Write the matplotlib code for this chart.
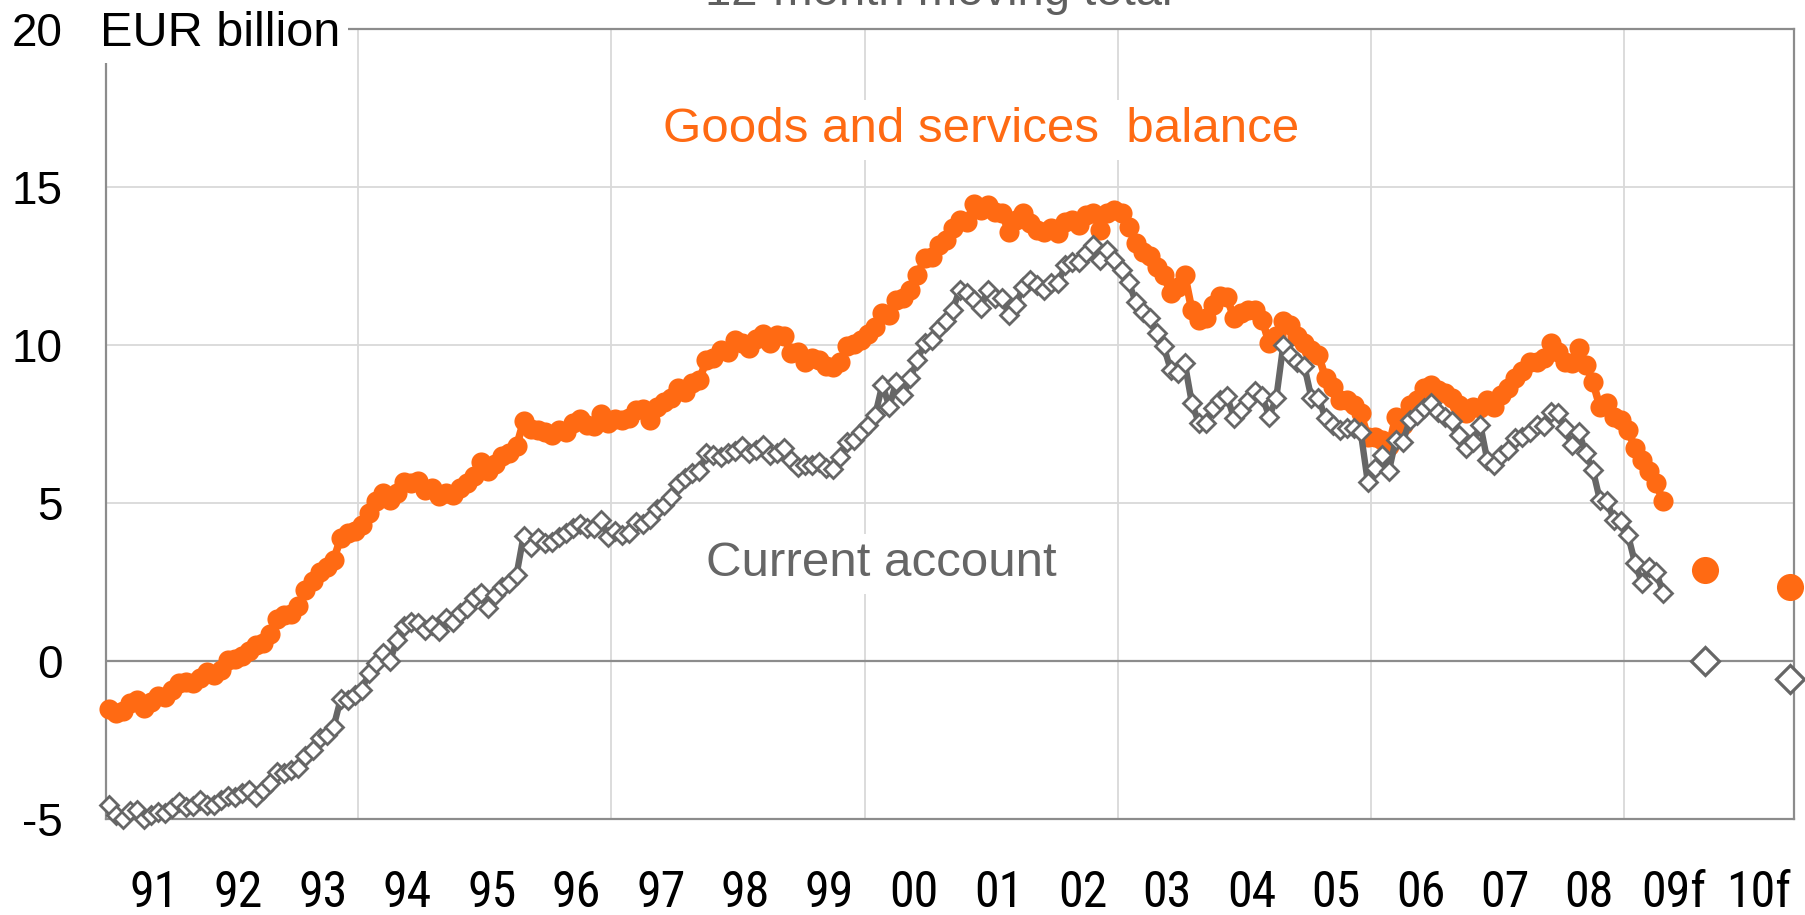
import matplotlib
matplotlib.use("Agg")
import matplotlib.pyplot as plt
import numpy as np

# ---------------- data (EUR billion, 12-month moving total) ----------------
# monthly values, Jan 1991 .. Jun 2009
goods_services = [
    -1.52, -1.64, -1.59, -1.33, -1.24, -1.49, -1.28, -1.10, -1.14, -0.91, -0.70, -0.67,   # 1991
    -0.70, -0.54, -0.33, -0.43, -0.27, 0.04, 0.06, 0.15, 0.31, 0.52, 0.59, 0.86,           # 1992
    1.33, 1.46, 1.50, 1.73, 2.25, 2.52, 2.83, 2.99, 3.20, 3.89, 4.05, 4.10,                # 1993
    4.31, 4.70, 5.05, 5.33, 5.10, 5.31, 5.65, 5.63, 5.71, 5.42, 5.47, 5.23,                # 1994
    5.33, 5.26, 5.47, 5.63, 5.84, 6.31, 6.00, 6.24, 6.49, 6.58, 6.79, 7.58,                # 1995
    7.33, 7.31, 7.23, 7.15, 7.31, 7.26, 7.52, 7.65, 7.47, 7.42, 7.82, 7.52,                # 1996
    7.65, 7.61, 7.68, 7.95, 7.97, 7.61, 8.05, 8.18, 8.31, 8.63, 8.52, 8.79,                # 1997
    8.89, 9.53, 9.58, 9.84, 9.79, 10.16, 10.05, 9.89, 10.18, 10.35, 10.07, 10.32,          # 1998
    10.28, 9.74, 9.79, 9.47, 9.58, 9.53, 9.32, 9.29, 9.47, 9.95, 10.03, 10.16,             # 1999
    10.35, 10.58, 11.00, 10.95, 11.42, 11.48, 11.74, 12.21, 12.74, 12.79, 13.16, 13.32,    # 2000
    13.69, 13.95, 13.90, 14.46, 14.25, 14.43, 14.21, 14.16, 13.58, 13.95, 14.16, 13.85,    # 2001
    13.64, 13.58, 13.69, 13.53, 13.90, 13.95, 13.79, 14.11, 14.16, 13.64, 14.16, 14.27,    # 2002
    14.16, 13.74, 13.22, 12.95, 12.80, 12.47, 12.20, 11.64, 11.84, 12.20, 11.10, 10.79,    # 2003
    10.84, 11.27, 11.53, 11.50, 10.84, 11.00, 11.11, 11.11, 10.79, 10.05, 10.27, 10.74,    # 2004
    10.63, 10.27, 10.05, 9.84, 9.68, 8.95, 8.68, 8.26, 8.26, 8.10, 7.84, 7.10,             # 2005
    7.10, 7.00, 6.79, 7.73, 7.47, 8.10, 8.26, 8.63, 8.74, 8.58, 8.47, 8.31,                # 2006
    8.10, 7.84, 8.05, 8.00, 8.26, 8.05, 8.42, 8.63, 8.95, 9.16, 9.47, 9.47,                # 2007
    9.58, 10.05, 9.79, 9.47, 9.42, 9.89, 9.37, 8.84, 8.05, 8.16, 7.73, 7.63,               # 2008
    7.31, 6.73, 6.36, 6.00, 5.63, 5.05,                                                    # 2009
]
current_account = [
    -4.54, -4.85, -5.00, -4.75, -4.70, -5.00, -4.86, -4.78, -4.80, -4.65, -4.44, -4.60,   # 1991
    -4.57, -4.40, -4.54, -4.54, -4.38, -4.26, -4.28, -4.17, -4.07, -4.28, -4.07, -3.86,   # 1992
    -3.49, -3.54, -3.44, -3.38, -3.01, -2.80, -2.43, -2.33, -2.07, -1.20, -1.22, -1.06,   # 1993
    -0.91, -0.38, -0.06, 0.25, -0.01, 0.67, 1.10, 1.25, 1.20, 0.99, 1.15, 0.94,            # 1994
    1.36, 1.25, 1.52, 1.68, 1.99, 2.15, 1.68, 2.10, 2.36, 2.47, 2.73, 3.96,                # 1995
    3.62, 3.89, 3.73, 3.78, 3.94, 4.05, 4.20, 4.34, 4.20, 4.20, 4.47, 3.94,                # 1996
    4.10, 4.00, 4.05, 4.40, 4.35, 4.50, 4.80, 4.95, 5.20, 5.60, 5.80, 5.94,                # 1997
    6.00, 6.58, 6.52, 6.47, 6.58, 6.63, 6.79, 6.58, 6.68, 6.84, 6.52, 6.58,                # 1998
    6.73, 6.36, 6.15, 6.21, 6.21, 6.31, 6.10, 6.07, 6.47, 6.94, 7.00, 7.26,                # 1999
    7.47, 7.79, 8.74, 8.05, 8.84, 8.42, 8.95, 9.53, 10.05, 10.16, 10.53, 10.74,            # 2000
    11.11, 11.74, 11.63, 11.42, 11.16, 11.74, 11.48, 11.48, 10.95, 11.26, 11.84, 12.05,    # 2001
    11.90, 11.74, 11.95, 11.95, 12.53, 12.63, 12.63, 12.90, 13.16, 12.69, 13.00, 12.69,    # 2002
    12.37, 12.00, 11.37, 11.05, 10.84, 10.37, 9.95, 9.21, 9.11, 9.42, 8.16, 7.52,          # 2003
    7.52, 8.00, 8.26, 8.37, 7.68, 7.95, 8.26, 8.53, 8.37, 7.73, 8.32, 10.00,               # 2004
    9.68, 9.47, 9.32, 8.32, 8.32, 7.68, 7.47, 7.31, 7.37, 7.37, 7.26, 5.68,                # 2005
    6.10, 6.52, 6.00, 7.00, 6.94, 7.63, 7.79, 8.00, 8.16, 7.89, 7.73, 7.58,                # 2006
    7.15, 6.73, 6.94, 7.47, 6.36, 6.21, 6.52, 6.68, 7.05, 7.10, 7.26, 7.47,                # 2007
    7.42, 7.89, 7.84, 7.37, 6.84, 7.26, 6.58, 6.05, 5.10, 5.05, 4.47, 4.42,                # 2008
    3.99, 3.10, 2.47, 2.99, 2.83, 2.15,                                                    # 2009
]
start_year = 1991
forecast_years = [2009, 2010]
goods_forecast = [2.87, 2.33]
current_forecast = [0.00, -0.56]
year_labels = ["91", "92", "93", "94", "95", "96", "97", "98", "99", "00",
               "01", "02", "03", "04", "05", "06", "07", "08", "09f", "10f"]
y_ticks = [-5, 0, 5, 10, 15, 20]

# ---------------- styling ----------------
ORANGE = "#ff6a13"
GRAY = "#666666"
GRID = "#d9d9d9"
AXIS = "#8c8c8c"
MAIN_FONT = ["Liberation Sans", "DejaVu Sans"]
NARROW_FONT = ["Roboto Condensed", "Liberation Sans Narrow",
               "DejaVu Sans Condensed", "DejaVu Sans"]
plt.rcParams["font.family"] = MAIN_FONT

fig = plt.figure(figsize=(18.06, 9.15), dpi=100)
ax = fig.add_axes([0.05853, 0.10459, 0.93483, 0.86415])

n_months = 12 * len(year_labels)
ax.set_xlim(-0.4, n_months - 0.4)
ax.set_ylim(-5, 20)

# grid
for yv in (5, 10, 15):
    ax.axhline(yv, color=GRID, lw=1.3, zorder=1)
ax.axhline(0, color=AXIS, lw=1.6, zorder=1.5)
for k in range(1, len(year_labels) // 3 + 1):
    xv = 36 * k - 0.5
    if xv < n_months - 1:
        ax.axvline(xv, color=GRID, lw=1.3, zorder=1)

for sp in ax.spines.values():
    sp.set_color(AXIS)
    sp.set_linewidth(1.6)

# series
x_hist = np.arange(len(goods_services))
x_fc = [12 * (y - start_year) + 11 for y in forecast_years]

ax.plot(x_hist, goods_services, color=ORANGE, lw=5.5, marker="o", ms=14.5,
        mec="none", zorder=4, clip_on=False, solid_joinstyle="round")
ax.plot(x_fc, goods_forecast, linestyle="none", marker="o", ms=19.5,
        color=ORANGE, mec="none", zorder=4, clip_on=False)
ax.plot(np.arange(len(current_account)), current_account, color=GRAY, lw=4.6,
        marker="D", ms=9.3, mfc="white", mec=GRAY, mew=2.0, zorder=5,
        clip_on=False, solid_joinstyle="round")
ax.plot(x_fc, current_forecast, linestyle="none", marker="D", ms=14,
        mfc="white", mec=GRAY, mew=2.3, zorder=5, clip_on=False)

# ticks
ax.set_yticks(y_ticks)
ax.set_yticklabels([str(v) for v in y_ticks])
ax.set_xticks([12 * k + 6.5 for k in range(len(year_labels))])
ax.set_xticklabels(year_labels, family=NARROW_FONT, stretch="condensed")
ax.tick_params(axis="y", length=0, pad=31, labelsize=33, labelcolor="black")
ax.tick_params(axis="x", length=0, pad=36, labelsize=36, labelcolor="black")

# annotations
box = dict(facecolor="white", edgecolor="none", boxstyle="square,pad=0.15")
ax.text(124.0, 16.8, "Goods and services  balance", color=ORANGE, fontsize=35.5,
        ha="center", va="center", bbox=box, zorder=3)
ax.text(109.9, 3.08, "Current account", color=GRAY, fontsize=35.5,
        ha="center", va="center", bbox=box, zorder=3)
fig.text(100 / 1806, 1 - 46 / 915, "EUR billion", color="black", fontsize=35,
         ha="left", va="baseline", bbox=box, zorder=3)
fig.text(939 / 1806, 1 - 5 / 915, "12-month moving total", color="#5f5f5f",
         fontsize=34, ha="center", va="baseline")

fig.savefig("out.png", dpi=100)
